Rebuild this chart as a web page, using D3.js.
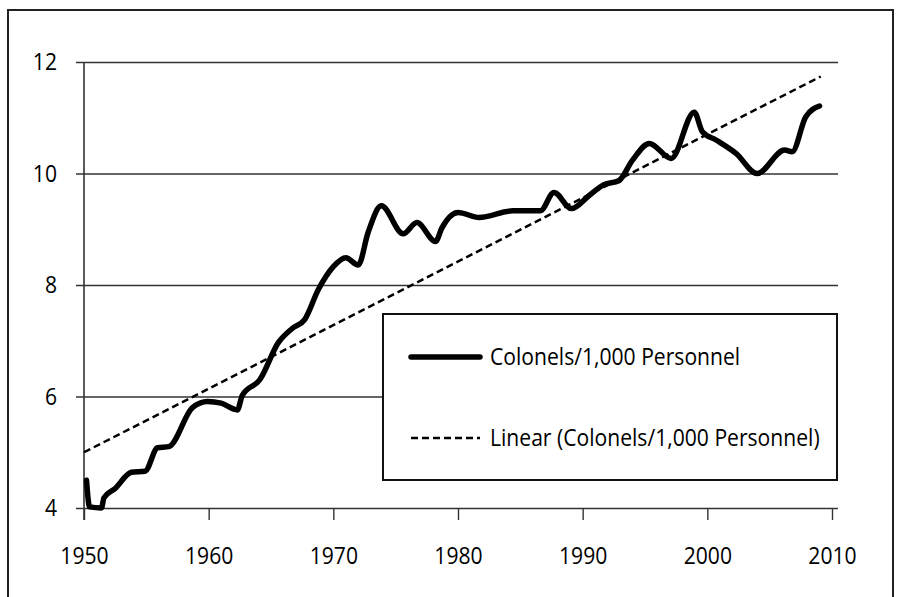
<!DOCTYPE html>
<html>
<head>
<meta charset="utf-8">
<script src="https://cdn.jsdelivr.net/npm/d3@7"></script>
<style>
    html, body { margin: 0; padding: 0; background: #fff; }
    #chart { width: 901px; height: 597px; }
    text { font-family: "Open Sans", "DejaVu Sans", sans-serif; fill: #000; }
</style>
</head>
<body>
<div id="chart"></div>
<script>
// values (year, colonels per 1,000 personnel)
const years = [
    1950.2, 1950.45, 1951.4, 1951.6, 1952.5, 1953.8, 1954.9, 1955.9, 1956.8, 1958.7,
    1959.9, 1961.0, 1962.3, 1962.7, 1964.1, 1965.6, 1966.7, 1967.7, 1968.8, 1970.0,
    1971.0, 1972.0, 1972.8, 1973.85, 1975.6, 1976.7, 1978.2, 1978.7, 1980.0, 1981.7,
    1984.4, 1986.6, 1987.7, 1989.1, 1990.5, 1991.7, 1992.9, 1994.0, 1995.35, 1997.1,
    1998.95, 1999.6, 2000.7, 2002.3, 2004.0, 2006.2, 2006.8, 2007.9, 2009.0
];
const colonelRatio = [
    4.50, 4.02, 4.00, 4.18, 4.35, 4.64, 4.66, 5.08, 5.10, 5.80,
    5.91, 5.88, 5.76, 6.02, 6.30, 6.97, 7.22, 7.38, 7.92, 8.33,
    8.49, 8.36, 8.95, 9.42, 8.92, 9.12, 8.78, 9.02, 9.30, 9.21,
    9.33, 9.33, 9.66, 9.37, 9.60, 9.80, 9.87, 10.24, 10.54, 10.27,
    11.10, 10.75, 10.60, 10.36, 10.00, 10.42, 10.39, 11.02, 11.21
];
const trendYears = [1950, 2009.1];
const trendValues = [5.0, 11.74];

const xTicks = [1950, 1960, 1970, 1980, 1990, 2000, 2010];
const yTicks = [4, 6, 8, 10, 12];
const legendLabels = ['Colonels/1,000 Personnel', 'Linear (Colonels/1,000 Personnel)'];

const width = 901;
const height = 597;
const plot = { left: 84, right: 832, top: 62, bottom: 508 };
const squeeze = 0.88; // the source font is narrow

const svg = d3.select('#chart')
    .append('svg')
    .attr('width', width)
    .attr('height', height);

// outer frame
svg.append('rect')
    .attr('x', 8)
    .attr('y', 10)
    .attr('width', 885)
    .attr('height', 620)
    .attr('fill', 'none')
    .attr('stroke', '#222')
    .attr('stroke-width', 2);

const x = d3.scaleLinear().domain([1950, 2010]).range([plot.left, plot.right]);
const y = d3.scaleLinear().domain([4, 12]).range([plot.bottom, plot.top]);

// y axis with gridlines
const yAxis = svg.append('g')
    .attr('transform', `translate(${plot.left},0)`)
    .call(d3.axisLeft(y)
        .tickValues(yTicks)
        .tickSizeInner(-(plot.right - plot.left + 6))
        .tickSizeOuter(0)
        .tickPadding(27)
        .tickFormat(d3.format('d')));
yAxis.select('.domain').remove();
yAxis.selectAll('.tick line')
    .attr('x1', -8)
    .attr('stroke', '#333')
    .attr('stroke-width', 1.4);
yAxis.selectAll('.tick text')
    .attr('font-size', 24)
    .attr('transform', `scale(${squeeze},1)`)
    .attr('x', -27 / squeeze);

// x axis
const xAxis = svg.append('g')
    .attr('transform', `translate(0,${plot.bottom})`)
    .call(d3.axisBottom(x)
        .tickValues(xTicks)
        .tickSize(12)
        .tickPadding(27)
        .tickFormat(d3.format('d')));
xAxis.select('.domain').remove();
xAxis.selectAll('.tick line')
    .attr('stroke', '#333')
    .attr('stroke-width', 1.4);
xAxis.selectAll('.tick text')
    .attr('font-size', 24)
    .attr('transform', `scale(${squeeze},1)`);

// vertical axis line
svg.append('line')
    .attr('x1', plot.left)
    .attr('x2', plot.left)
    .attr('y1', plot.top)
    .attr('y2', plot.bottom + 12)
    .attr('stroke', '#333')
    .attr('stroke-width', 1.6);

// trend line
svg.append('path')
    .datum(trendYears.map((yr, i) => [yr, trendValues[i]]))
    .attr('fill', 'none')
    .attr('stroke', '#000')
    .attr('stroke-width', 2.5)
    .attr('stroke-dasharray', '7,4')
    .attr('d', d3.line().x(d => x(d[0])).y(d => y(d[1])));

// data line
const line = d3.line()
    .x(d => x(d[0]))
    .y(d => y(d[1]))
    .curve(d3.curveMonotoneX);

svg.append('path')
    .datum(years.map((yr, i) => [yr, colonelRatio[i]]))
    .attr('fill', 'none')
    .attr('stroke', '#000')
    .attr('stroke-width', 5.5)
    .attr('stroke-linejoin', 'round')
    .attr('stroke-linecap', 'round')
    .attr('d', line);

// legend
const legend = svg.append('g').attr('transform', 'translate(383,314)');
legend.append('rect')
    .attr('width', 454)
    .attr('height', 166)
    .attr('fill', '#fff')
    .attr('stroke', '#111')
    .attr('stroke-width', 2);

const rows = legend.selectAll('.row')
    .data(legendLabels)
    .join('g')
    .attr('class', 'row')
    .attr('transform', (d, i) => `translate(0,${43 + i * 81})`);

rows.append('line')
    .attr('x1', 28)
    .attr('x2', 97)
    .attr('stroke', '#000')
    .attr('stroke-width', (d, i) => i === 0 ? 5.5 : 2.5)
    .attr('stroke-linecap', (d, i) => i === 0 ? 'round' : 'butt')
    .attr('stroke-dasharray', (d, i) => i === 0 ? null : '7,4');

rows.append('text')
    .attr('transform', `translate(107,0) scale(${squeeze},1)`)
    .attr('dy', '0.35em')
    .attr('font-size', 24)
    .text(d => d);
</script>
</body>
</html>
